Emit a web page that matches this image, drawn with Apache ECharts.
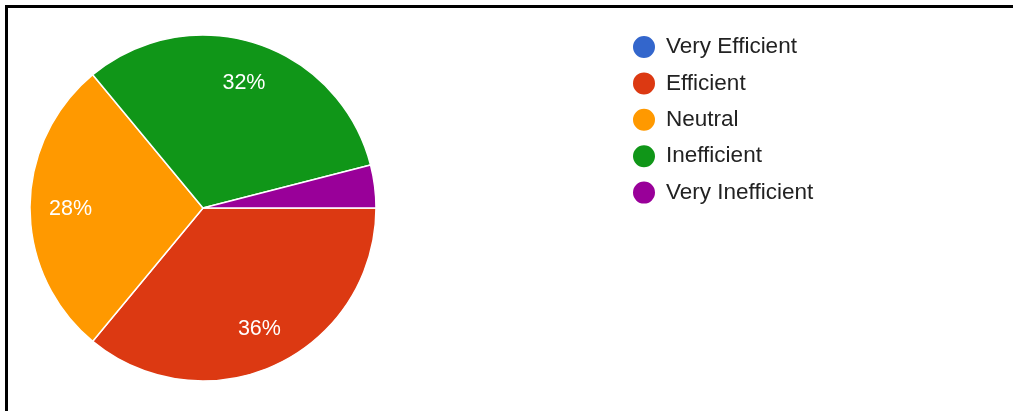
<!DOCTYPE html>
<html>
<head>
<meta charset="utf-8">
<script src="https://cdn.jsdelivr.net/npm/echarts@6/dist/echarts.min.js"></script>
<style>html,body{margin:0;padding:0;background:#fff;}#c{width:1014px;height:411px;}</style>
</head>
<body>
<div id="c"></div>
<script>
const categories = ['Very Efficient', 'Efficient', 'Neutral', 'Inefficient', 'Very Inefficient'];
const values = [0, 9, 7, 8, 1];
const colors = ['#3366cc', '#dc3912', '#ff9900', '#109618', '#990099'];

const data = categories.map((n, i) => ({ name: n, value: values[i] }));
const chart = echarts.init(document.getElementById('c'));
const font = '"Liberation Sans", Arial, sans-serif';
chart.setOption({
  animation: false,
  color: colors,
  legend: {
    orient: 'vertical',
    left: 631,
    top: 34,
    padding: 0,
    icon: 'circle',
    itemWidth: 24,
    itemHeight: 24,
    itemGap: 10.4,
    data: categories.map((n, i) => ({ name: n, itemStyle: { color: colors[i] } })),
    textStyle: { fontFamily: font, fontSize: 22.5, lineHeight: 24, color: '#222', padding: [0, 0, 0, 5] }
  },
  graphic: [
    { type: 'line', shape: { x1: 5, y1: 6.5, x2: 1013, y2: 6.5 }, style: { stroke: '#000', lineWidth: 3 } },
    { type: 'line', shape: { x1: 6.5, y1: 5, x2: 6.5, y2: 411 }, style: { stroke: '#000', lineWidth: 3 } }
  ],
  series: [
    {
      type: 'pie',
      center: [203, 208],
      radius: [0, 173],
      startAngle: 0,
      clockwise: true,
      minAngle: 0,
      avoidLabelOverlap: false,
      itemStyle: { borderColor: '#fff', borderWidth: 1.5 },
      label: { show: false },
      labelLine: { show: false },
      emphasis: { disabled: true },
      data: data
    },
    {
      type: 'pie',
      center: [203, 209],
      radius: [86, 173],
      startAngle: 0,
      clockwise: true,
      silent: true,
      avoidLabelOverlap: false,
      itemStyle: { color: 'rgba(0,0,0,0)', borderWidth: 0 },
      label: {
        show: true,
        position: 'inside',
        color: '#fff',
        fontFamily: font,
        fontSize: 21.5,
        formatter: p => p.percent >= 5 ? Math.round(p.percent) + '%' : ''
      },
      labelLine: { show: false },
      emphasis: { disabled: true },
      data: data
    }
  ]
});
</script>
</body>
</html>
